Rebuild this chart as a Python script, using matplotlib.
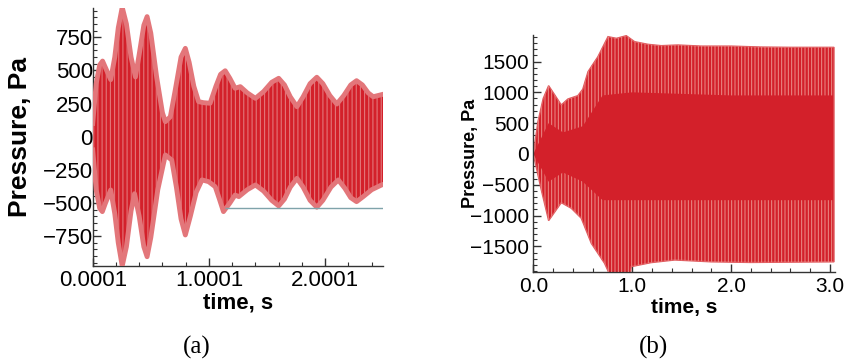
import numpy as np
import matplotlib.pyplot as plt

# ---- panel (a): envelope of the pressure signal
a_up_t = [0.0001, 0.03, 0.06, 0.085, 0.11, 0.155, 0.19, 0.22, 0.254, 0.29, 0.33, 0.368,
          0.40, 0.44, 0.468, 0.50, 0.55, 0.60, 0.625, 0.668, 0.71, 0.76, 0.797, 0.83,
          0.87, 0.911, 0.954, 1.01, 1.06, 1.10, 1.14, 1.18, 1.225, 1.27, 1.33, 1.40,
          1.47, 1.54, 1.60, 1.65, 1.70, 1.757, 1.81, 1.87, 1.928, 1.98, 2.04, 2.10,
          2.16, 2.22, 2.27, 2.32, 2.37, 2.413, 2.50]
a_up_p = [100, 400, 540, 570, 520, 430, 600, 820, 975, 850, 600, 450,
          620, 840, 905, 780, 450, 180, 113, 150, 350, 600, 666, 560,
          380, 264, 256, 252, 380, 470, 497, 440, 365, 377, 330, 289,
          340, 410, 440, 390, 300, 226, 300, 400, 448, 400, 310, 246,
          310, 390, 422, 390, 330, 301, 320]
a_lo_t = [0.0001, 0.03, 0.06, 0.083, 0.11, 0.155, 0.19, 0.22, 0.254, 0.29, 0.33, 0.36,
          0.40, 0.44, 0.468, 0.50, 0.56, 0.625, 0.68, 0.72, 0.76, 0.797, 0.84, 0.89,
          0.94, 0.997, 1.054, 1.09, 1.125, 1.18, 1.225, 1.257, 1.33, 1.40, 1.47, 1.54,
          1.60, 1.65, 1.70, 1.757, 1.81, 1.87, 1.928, 1.98, 2.05, 2.113, 2.17, 2.22,
          2.27, 2.33, 2.40, 2.485, 2.50]
a_lo_p = [-100, -400, -540, -565, -500, -402, -580, -800, -975, -830, -560, -430,
          -600, -830, -905, -760, -400, -138, -176, -380, -620, -741, -600, -420,
          -326, -339, -377, -470, -565, -500, -440, -452, -400, -364, -410, -480,
          -522, -470, -380, -314, -380, -480, -532, -480, -380, -326, -390, -460,
          -490, -450, -400, -364, -360]
a_ref_level = -540
a_ref_span = [1.14, 2.5]
a_xticks = [0.0001, 1.0001, 2.0001]
a_xlabels = ['0.0001', '1.0001', '2.0001']
a_yticks = [-750, -500, -250, 0, 250, 500, 750]

# ---- panel (b)
b_up_t = [0, 0.047, 0.10, 0.155, 0.22, 0.283, 0.35, 0.45, 0.50, 0.553, 0.653, 0.755,
          0.84, 0.94, 1.024, 1.159, 1.293, 1.46, 1.7, 2.0, 2.3, 2.6, 3.04]
b_up_p = [0, 524, 900, 1108, 950, 795, 892, 946, 1050, 1335, 1578, 1903,
          1876, 1919, 1822, 1779, 1757, 1768, 1750, 1750, 1735, 1730, 1730]
b_lo_t = [0, 0.081, 0.155, 0.283, 0.384, 0.485, 0.586, 0.72, 0.77, 0.98, 0.99,
          1.19, 1.43, 1.8, 2.2, 2.6, 3.04]
b_lo_p = [0, -584, -1082, -790, -881, -1043, -1449, -1773, -1950, -1950, -1828,
          -1763, -1720, -1750, -1760, -1755, -1750]
# where the light streaks stop towards the middle
b_streak_t = [0, 0.155, 0.30, 0.50, 0.70, 1.0, 2.0, 3.04]
b_streak_up = [0, 500, 350, 450, 950, 1000, 950, 950]
b_streak_lo = [0, -450, -300, -450, -750, -750, -750, -750]
b_xticks = [0.0, 1.0, 2.0, 3.0]
b_xlabels = ['0.0', '1.0', '2.0', '3.0']
b_yticks = [-1500, -1000, -500, 0, 500, 1000, 1500]

dark = '#d3202a'
pink = '#e3767a'
streak = '#ec8f8a'

W, H = 845, 362
plt.rcParams['font.family'] = ['Liberation Sans', 'DejaVu Sans']
plt.rcParams['hatch.linewidth'] = 0.8
fig = plt.figure(figsize=(W / 100, H / 100), dpi=100)


def style_axes(ax, xminor, yminor, tsize, lsize_x, lsize_y):
    for s in ['top', 'right']:
        ax.spines[s].set_visible(False)
    for s in ['left', 'bottom']:
        ax.spines[s].set_color('#333333')
        ax.spines[s].set_linewidth(1.0)
    ax.set_xticks(xminor, minor=True)
    ax.set_yticks(yminor, minor=True)
    ax.tick_params(which='major', direction='in', length=6, width=1.0,
                   color='#333333', labelsize=tsize)
    ax.tick_params(which='minor', direction='in', length=3, width=0.8,
                   color='#333333')
    ax.set_ylabel('Pressure, Pa', fontsize=lsize_y, fontweight='bold', va='center')
    ax.set_xlabel('time, s', fontsize=lsize_x, fontweight='bold', va='center')


# ---------------- (a)
ax1 = fig.add_axes([92.7 / W, (H - 266) / H, 290.6 / W, 258 / H])
env_t = np.r_[a_up_t, a_lo_t[::-1]]
env_p = np.r_[a_up_p, a_lo_p[::-1]]
ax1.fill(env_t, env_p, facecolor=pink, edgecolor='none', zorder=2)
ax1.fill(env_t, env_p, facecolor=dark, edgecolor=pink, hatch='||||',
         linewidth=0, zorder=3)
ax1.plot(a_up_t, a_up_p, color=pink, lw=3.5, zorder=4, solid_joinstyle='round')
ax1.plot(a_lo_t, a_lo_p, color=pink, lw=3.5, zorder=4, solid_joinstyle='round')
ax1.hlines(a_ref_level, a_ref_span[0], a_ref_span[1], color='#7fa3aa', lw=1, zorder=5)
ax1.set_xlim(0.0001, 2.5)
ax1.set_ylim(-975, 970)
ax1.set_xticks(a_xticks)
ax1.set_xticklabels(a_xlabels)
ax1.set_yticks(a_yticks)
style_axes(ax1, np.arange(0.0001, 2.5, 0.2), np.arange(-950, 951, 50), 16, 16, 19)
ax1.tick_params(axis='x', which='major', pad=3)
ax1.tick_params(axis='y', which='major', pad=0)
ax1.yaxis.set_label_coords(-72.7 / 290.6, 0.5)
ax1.xaxis.set_label_coords(0.5, -37 / 258)

# ---------------- (b)
ax2 = fig.add_axes([533.3 / W, (H - 271.7) / H, 301.7 / W, 236.7 / H])
benv_t = np.r_[b_up_t, b_lo_t[::-1]]
benv_p = np.r_[b_up_p, b_lo_p[::-1]]
ax2.fill(benv_t, benv_p, facecolor=dark, edgecolor='#e05a5e', linewidth=1.0, zorder=2)
plt.rcParams['hatch.linewidth'] = 0.7
ax2.fill(np.r_[b_up_t, b_streak_t[::-1]], np.r_[b_up_p, b_streak_up[::-1]],
         facecolor='none', edgecolor=streak, hatch='|||||', linewidth=0, zorder=3)
ax2.fill(np.r_[b_lo_t, b_streak_t[::-1]], np.r_[b_lo_p, b_streak_lo[::-1]],
         facecolor='none', edgecolor=streak, hatch='|||||', linewidth=0, zorder=3)
ax2.set_xlim(0, 3.05)
ax2.set_ylim(-1910, 1930)
ax2.set_xticks(b_xticks)
ax2.set_xticklabels(b_xlabels)
ax2.set_yticks(b_yticks)
style_axes(ax2, np.arange(0, 3.05, 0.2), np.arange(-1900, 1901, 100), 15, 15, 13)
ax2.tick_params(axis='x', which='major', pad=4)
ax2.tick_params(axis='y', which='major', pad=3)
ax2.yaxis.set_label_coords(-63.3 / 301.7, 0.5)
ax2.xaxis.set_label_coords(0.5, -35.3 / 236.7)

# captions
fig.text(197 / W, 1 - 347 / H, '(a)', ha='center', va='center', fontsize=18,
         family=['Liberation Serif', 'DejaVu Serif'])
fig.text(653 / W, 1 - 347 / H, '(b)', ha='center', va='center', fontsize=18,
         family=['Liberation Serif', 'DejaVu Serif'])

fig.savefig('out.png', dpi=100)
